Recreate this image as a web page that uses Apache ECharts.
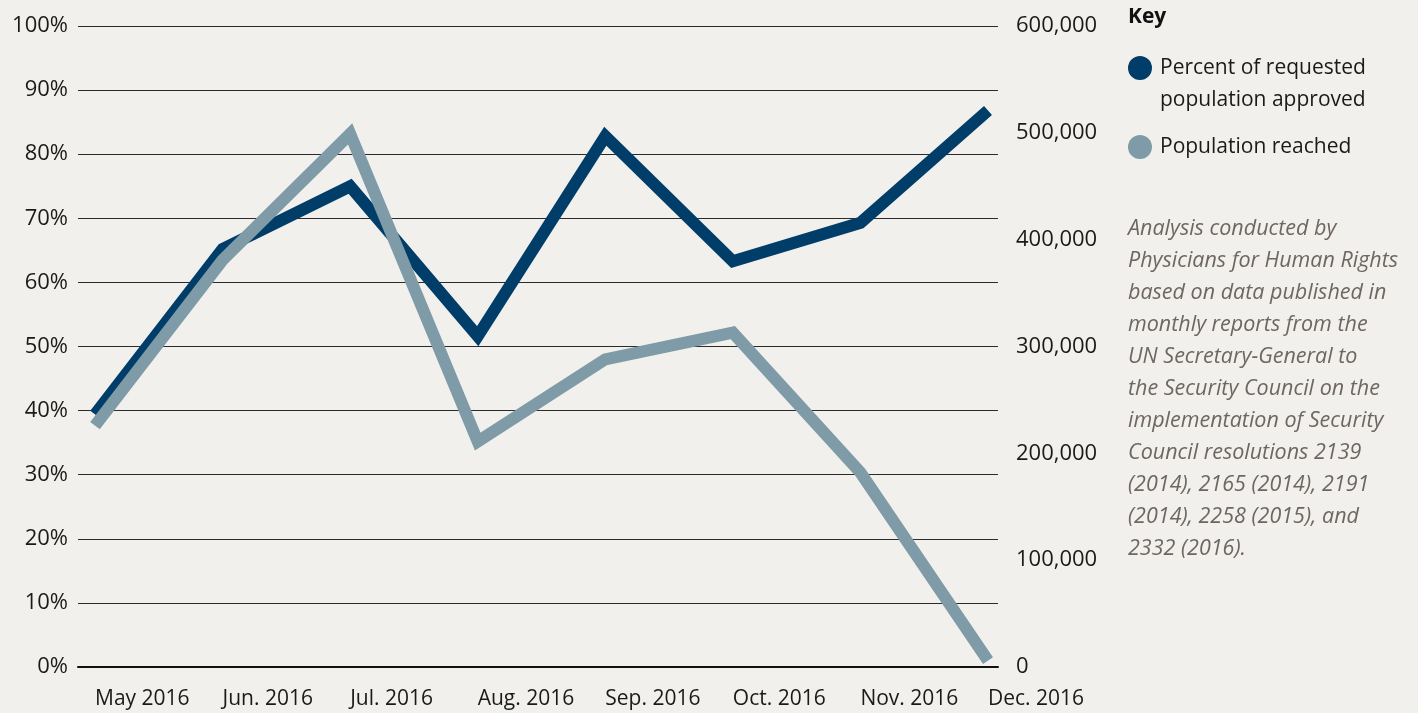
<!DOCTYPE html>
<html>
<head>
<meta charset="utf-8">
<script src="https://cdn.jsdelivr.net/npm/echarts@6/dist/echarts.min.js"></script>
<style>
  html, body { margin: 0; padding: 0; background: #f1f0ec; }
  #chart { width: 1418px; height: 713px; }
</style>
</head>
<body>
<div id="chart"></div>
<script>
// months on the x axis
const months = ['May 2016', 'Jun. 2016', 'Jul. 2016', 'Aug. 2016', 'Sep. 2016', 'Oct. 2016', 'Nov. 2016', 'Dec. 2016']
// percent of requested population approved (left axis)
const percentApproved = [39.4, 65.2, 75.0, 51.6, 82.8, 63.3, 69.3, 86.8]
// population reached (right axis)
const populationReached = [226000, 381000, 499000, 211000, 288000, 313000, 182000, 6000]
const seriesNames = ['Percent of requested\npopulation approved', 'Population reached']
const seriesColors = ['#003d68', '#7f9ba8']
const noteLines = [
  'Analysis conducted by',
  'Physicians for Human Rights',
  'based on data published in',
  'monthly reports from the',
  'UN Secretary-General to',
  'the Security Council on the',
  'implementation of Security',
  'Council resolutions 2139',
  '(2014), 2165 (2014), 2191',
  '(2014), 2258 (2015), and',
  '2332 (2016).'
]

const font = '"Open Sans", "Noto Sans", sans-serif'
const chart = echarts.init(document.getElementById('chart'))

const option = {
  backgroundColor: '#f1f0ec',
  animation: false,
  textStyle: { fontFamily: font },
  grid: [
    // data grid: points sit inside the frame
    { left: 95, right: 430, top: 26, bottom: 46 },
    // frame grid: gridlines and axis labels
    { left: 78, right: 420, top: 26, bottom: 46 }
  ],
  xAxis: [
    {
      type: 'category',
      gridIndex: 0,
      data: months,
      boundaryGap: false,
      axisLine: { show: false },
      axisTick: { show: false },
      axisLabel: {
        align: 'left',
        margin: 22,
        fontSize: 21,
        color: '#1a1a1a',
        fontFamily: font,
        interval: 0
      }
    },
    {
      type: 'value',
      gridIndex: 1,
      min: 0,
      max: 1,
      axisLine: { show: true, onZero: false, lineStyle: { color: '#111', width: 2 } },
      axisTick: { show: false },
      axisLabel: { show: false },
      splitLine: { show: false }
    }
  ],
  yAxis: [
    { type: 'value', gridIndex: 0, min: 0, max: 100, show: false },
    { type: 'value', gridIndex: 0, min: 0, max: 600000, show: false },
    {
      type: 'value',
      gridIndex: 1,
      min: 0,
      max: 100,
      interval: 10,
      axisLine: { show: false },
      axisTick: { show: false },
      axisLabel: {
        formatter: '{value}%',
        margin: 10,
        fontSize: 22,
        color: '#1a1a1a',
        fontFamily: font
      },
      splitLine: { lineStyle: { color: '#2b2b2b', width: 1 } }
    },
    {
      type: 'value',
      gridIndex: 1,
      position: 'right',
      min: 0,
      max: 600000,
      interval: 100000,
      axisLine: { show: false },
      axisTick: { show: false },
      axisLabel: {
        formatter: v => v.toLocaleString('en-US'),
        margin: 18,
        fontSize: 22,
        color: '#1a1a1a',
        fontFamily: font
      },
      splitLine: { show: false }
    }
  ],
  series: [
    {
      name: seriesNames[1],
      type: 'line',
      xAxisIndex: 0,
      yAxisIndex: 1,
      data: populationReached,
      symbol: 'none',
      lineStyle: { color: seriesColors[1], width: 12, cap: 'butt', join: 'miter' },
      z: 3
    },
    {
      name: seriesNames[0],
      type: 'line',
      xAxisIndex: 0,
      yAxisIndex: 0,
      data: percentApproved,
      symbol: 'none',
      lineStyle: { color: seriesColors[0], width: 12, cap: 'butt', join: 'miter' },
      z: 2
    }
  ],
  graphic: [
    {
      type: 'text',
      left: 1128,
      top: 7,
      style: { text: 'Key', font: 'bold 21px ' + font, fill: '#111' }
    },
    {
      type: 'circle',
      shape: { cx: 1140, cy: 68, r: 12 },
      style: { fill: seriesColors[0] }
    },
    {
      type: 'text',
      left: 1160,
      top: 52,
      style: {
        text: seriesNames[0],
        font: '21px ' + font,
        lineHeight: 32,
        fill: '#1a1a1a'
      }
    },
    {
      type: 'circle',
      shape: { cx: 1140, cy: 147, r: 12 },
      style: { fill: seriesColors[1] }
    },
    {
      type: 'text',
      left: 1160,
      top: 131,
      style: {
        text: seriesNames[1],
        font: '21px ' + font,
        lineHeight: 32,
        fill: '#1a1a1a'
      }
    },
    {
      type: 'text',
      left: 1128,
      top: 213,
      style: {
        text: noteLines.join('\n'),
        font: 'italic 21.5px ' + font,
        lineHeight: 32,
        fill: '#6e6663'
      }
    }
  ]
}

chart.setOption(option)
</script>
</body>
</html>
